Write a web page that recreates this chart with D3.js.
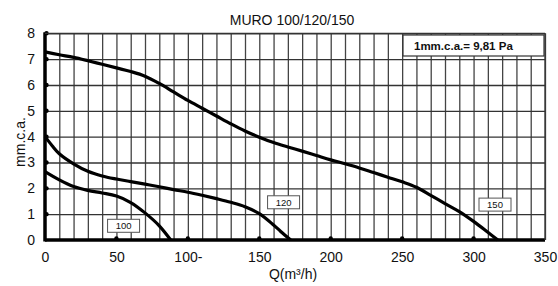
<!DOCTYPE html>
<html>
<head>
<meta charset="utf-8">
<script src="https://cdn.jsdelivr.net/npm/d3@7"></script>
<style>
  body { margin: 0; background: #fff; }
  text { font-family: Arial, "Liberation Sans", sans-serif; fill: #111; }
</style>
</head>
<body>
<script>
// data
var xTicks = [0, 50, 100, 150, 200, 250, 300, 350];
var xTickLabels = ["0", "50", "100-", "150", "200", "250", "300", "350"];
var yTicks = [0, 1, 2, 3, 4, 5, 6, 7, 8];

var q150 = [0, 10, 20, 30, 40, 50, 60, 70, 80, 90, 100, 110, 120, 130, 140, 150, 160, 170, 180, 190, 200, 210, 220, 230, 240, 250, 260, 270, 280, 290, 300, 310, 317];
var p150 = [7.28, 7.17, 7.07, 6.94, 6.8, 6.66, 6.52, 6.34, 6.06, 5.73, 5.4, 5.1, 4.8, 4.5, 4.22, 3.98, 3.77, 3.6, 3.44, 3.27, 3.1, 2.95, 2.79, 2.61, 2.43, 2.25, 2.04, 1.73, 1.41, 1.1, 0.72, 0.3, 0];

var q120 = [0, 5, 10, 20, 30, 40, 50, 60, 70, 80, 90, 100, 110, 120, 130, 140, 150, 160, 165, 172];
var p120 = [4.0, 3.65, 3.34, 2.95, 2.66, 2.48, 2.36, 2.26, 2.16, 2.06, 1.95, 1.85, 1.73, 1.6, 1.46, 1.29, 1.02, 0.58, 0.33, 0];

var q100 = [0, 10, 20, 30, 40, 50, 60, 70, 80, 88];
var p100 = [2.65, 2.33, 2.07, 1.92, 1.82, 1.7, 1.45, 1.05, 0.55, 0];

var curveNames = ["100", "120", "150"];
var labelQ = [55, 167, 315];
var labelP = [0.55, 1.46, 1.37];

var title = "MURO 100/120/150";
var xTitle = "Q(m³/h)";
var yTitle = "mm.c.a.";
var note = "1mm.c.a.= 9,81 Pa";

var width = 558, height = 286;
var svg = d3.select("body").append("svg")
    .attr("width", width)
    .attr("height", height);

var x = d3.scaleLinear().domain([0, 350]).range([45, 545]);
var y = d3.scaleLinear().domain([0, 8]).range([240, 33.3]);

// grid
svg.append("g")
    .attr("transform", "translate(0," + y(0) + ")")
    .call(d3.axisBottom(x).tickValues(d3.range(10, 351, 10)).tickSize(y(0) - y(8)).tickSizeOuter(0).tickFormat(""))
    .call(function(g) { g.select(".domain").remove(); })
    .selectAll("line")
    .attr("transform", "translate(0," + -(y(0) - y(8)) + ")")
    .attr("stroke", "#444")
    .attr("stroke-width", 1.3);

svg.append("g")
    .attr("transform", "translate(" + x(0) + ",0)")
    .call(d3.axisLeft(y).tickValues(yTicks.slice(1)).tickSize(-(x(350) - x(0))).tickFormat(""))
    .call(function(g) { g.select(".domain").remove(); })
    .selectAll("line")
    .attr("stroke", "#333")
    .attr("stroke-width", 1.3);

// axes lines
svg.append("line")
    .attr("x1", x(0)).attr("x2", x(0))
    .attr("y1", y(8) - 1).attr("y2", y(0) + 1.5)
    .attr("stroke", "#000").attr("stroke-width", 3.5);
svg.append("line")
    .attr("x1", x(0)).attr("x2", x(350))
    .attr("y1", y(0)).attr("y2", y(0))
    .attr("stroke", "#000").attr("stroke-width", 3.5);

// tick dots
svg.selectAll(".xdot").data(xTicks.slice(1, -1)).enter().append("circle")
    .attr("cx", function(d) { return x(d); }).attr("cy", y(0) - 1.5)
    .attr("r", 2.2).attr("fill", "#000");
svg.selectAll(".ydot").data(yTicks.slice(1)).enter().append("circle")
    .attr("cx", x(0) + 1.5).attr("cy", function(d) { return y(d); })
    .attr("r", 2.2).attr("fill", "#000");

// tick labels
svg.append("g")
    .attr("transform", "translate(0," + y(0) + ")")
    .call(d3.axisBottom(x).tickValues(xTicks).tickSize(0).tickPadding(12)
        .tickFormat(function(d, i) { return xTickLabels[i]; }))
    .call(function(g) { g.select(".domain").remove(); })
    .selectAll("text")
    .style("font-family", "Arial, 'Liberation Sans', sans-serif")
    .attr("font-size", 14)
    .attr("fill", "#111");

svg.append("g")
    .attr("transform", "translate(" + x(0) + ",0)")
    .call(d3.axisLeft(y).tickValues(yTicks).tickSize(0).tickPadding(10).tickFormat(d3.format("d")))
    .call(function(g) { g.select(".domain").remove(); })
    .selectAll("text")
    .style("font-family", "Arial, 'Liberation Sans', sans-serif")
    .attr("font-size", 14)
    .attr("fill", "#111");

// curves
var line = d3.line()
    .x(function(d) { return x(d[0]); })
    .y(function(d) { return y(d[1]); })
    .curve(d3.curveCatmullRom.alpha(0.5));

var series = [d3.zip(q100, p100), d3.zip(q120, p120), d3.zip(q150, p150)];
svg.selectAll(".curve").data(series).enter().append("path")
    .attr("class", "curve")
    .attr("d", line)
    .attr("fill", "none")
    .attr("stroke", "#000")
    .attr("stroke-width", 3.2)
    .attr("stroke-linejoin", "round");

// curve labels
var lab = svg.selectAll(".lab").data(curveNames).enter().append("g")
    .attr("transform", function(d, i) { return "translate(" + x(labelQ[i]) + "," + y(labelP[i]) + ")"; });
lab.append("rect")
    .attr("x", -16).attr("y", -6.5).attr("width", 32).attr("height", 13)
    .attr("fill", "#fff").attr("stroke", "#555").attr("stroke-width", 1);
lab.append("text")
    .attr("text-anchor", "middle").attr("dy", "0.35em")
    .attr("font-size", 9.5)
    .text(function(d) { return d; });

// note box
var nb = svg.append("g");
nb.append("rect")
    .attr("x", 403).attr("y", 35).attr("width", 141).attr("height", 21)
    .attr("fill", "#fff").attr("stroke", "#333").attr("stroke-width", 1.2);
nb.append("text")
    .attr("x", 414).attr("y", 50)
    .attr("font-size", 11.5).attr("font-weight", "bold")
    .text(note);

// plot frame top/right
svg.append("line")
    .attr("x1", x(0)).attr("x2", x(350)).attr("y1", y(8)).attr("y2", y(8))
    .attr("stroke", "#333").attr("stroke-width", 1.3);
svg.append("line")
    .attr("x1", x(350)).attr("x2", x(350)).attr("y1", y(8)).attr("y2", y(0))
    .attr("stroke", "#333").attr("stroke-width", 1.3);

// titles
svg.append("text")
    .attr("x", 292).attr("y", 25)
    .attr("text-anchor", "middle")
    .attr("font-size", 14)
    .text(title);

svg.append("text")
    .attr("x", 293).attr("y", 279)
    .attr("text-anchor", "middle")
    .attr("font-size", 14)
    .text(xTitle);

svg.append("text")
    .attr("transform", "translate(25,142) rotate(-90)")
    .attr("text-anchor", "middle")
    .attr("font-size", 14)
    .text(yTitle);
</script>
</body>
</html>
